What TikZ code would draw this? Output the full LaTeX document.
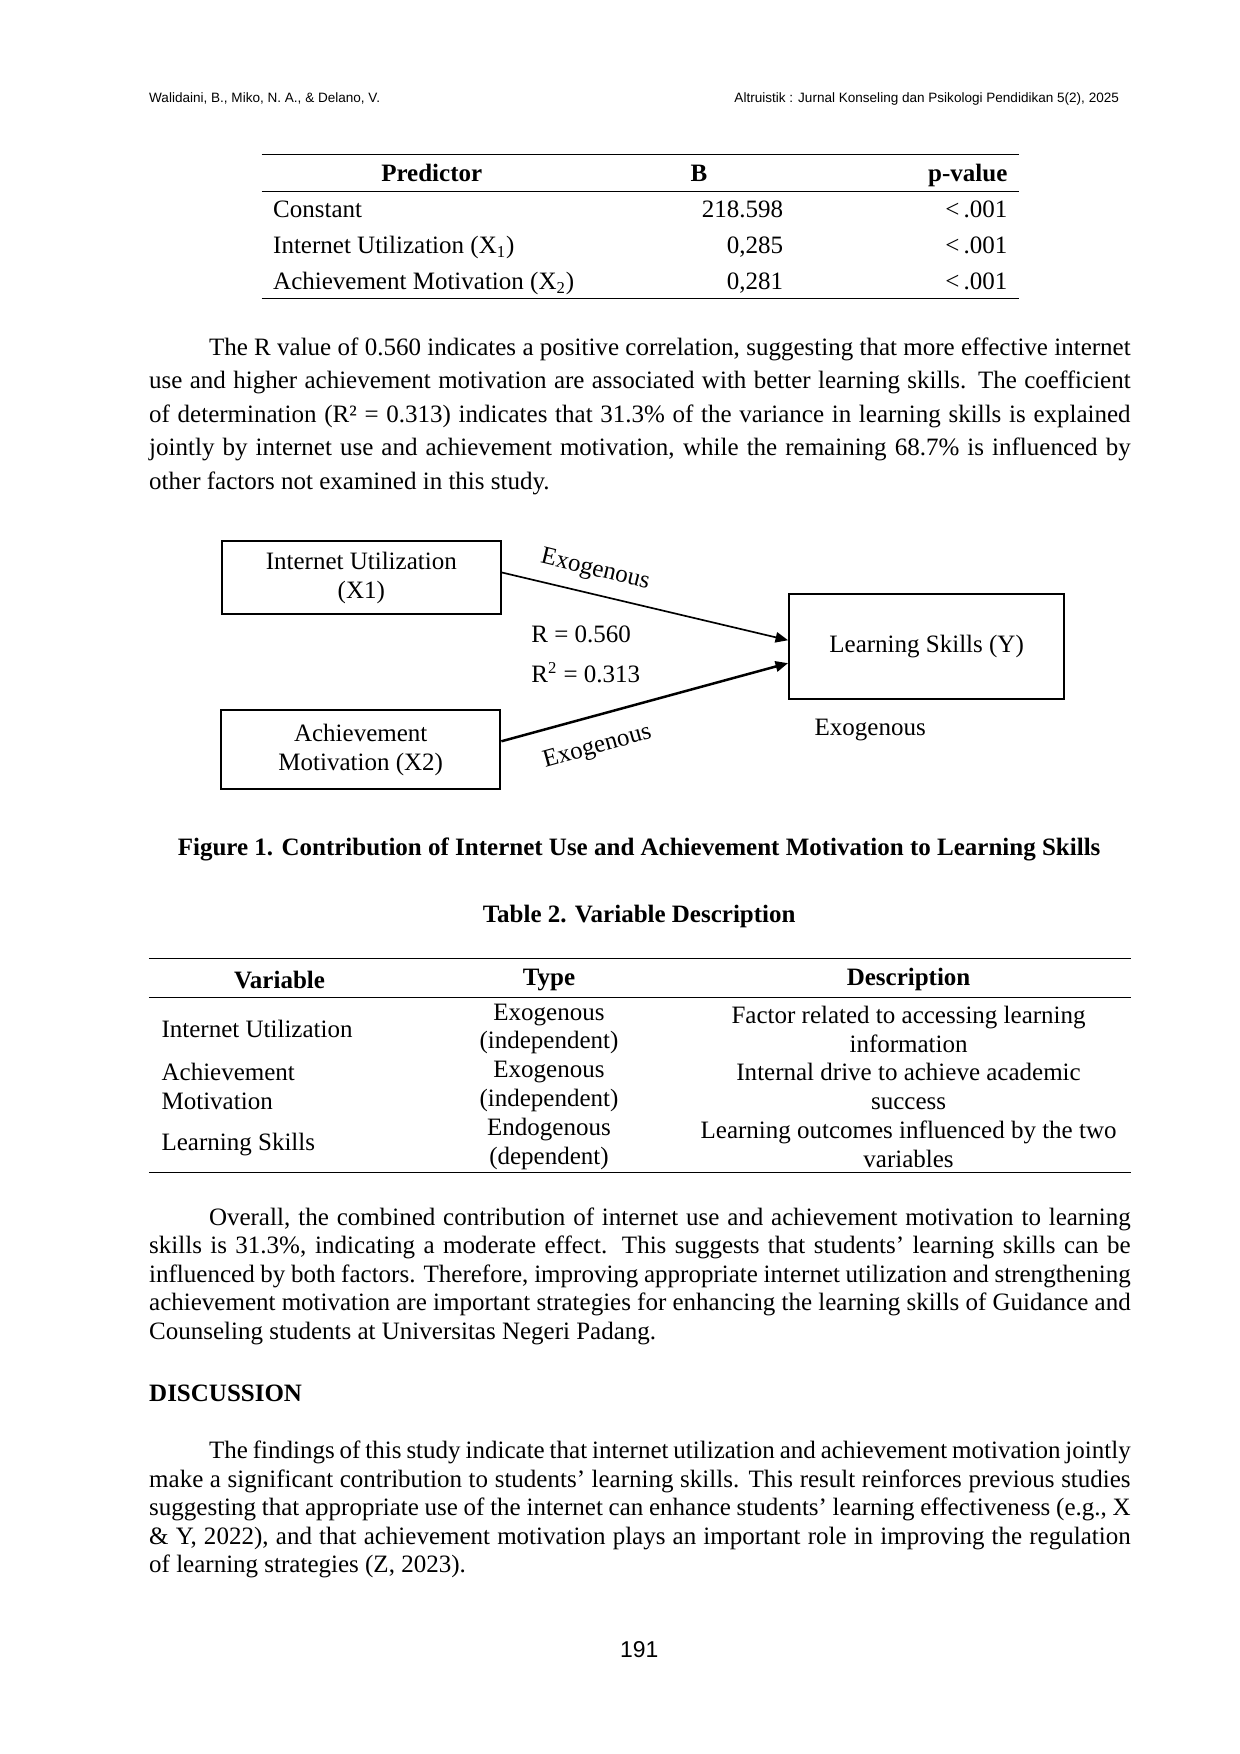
\documentclass[tikz,border=0pt]{standalone}
\usepackage{fontspec}
\setmainfont{Liberation Serif}
\newfontfamily\hdfont{Liberation Sans}
\usetikzlibrary{positioning,arrows.meta}

\tikzset{
  body/.style={anchor=north west,inner sep=0pt,text width=471pt,align=justify,
    font=\fontsize{12}{16.1}\selectfont},
  tight/.style={body,font=\fontsize{12}{13.7}\selectfont},
  cell/.style={inner sep=0pt,font=\fontsize{12}{13.7}\selectfont,align=center},
  box/.style={draw,line width=1pt,align=center,inner sep=0pt,
    font=\fontsize{12}{14}\selectfont},
  rule/.style={line width=0.6pt},
  path/.style={-{Triangle[length=6pt,width=5pt]}},
  lbl/.style={inner sep=0pt,font=\fontsize{12}{14}\selectfont}
}

\begin{document}
\begin{tikzpicture}[x=0.541pt,y=-0.541pt]
\useasboundingbox (0,0) rectangle (1100,1556);
% running head
\node[anchor=base west,inner sep=0pt,font=\hdfont\fontsize{6.5}{8}\selectfont] (hl) at (132,91) {Walidaini, B., Miko, N. A., \& Delano, V.};
\node[anchor=base east,inner sep=0pt,font=\hdfont\fontsize{6.5}{8}\selectfont] (hr) at (993,91) {Altruistik : Jurnal Konseling dan Psikologi Pendidikan 5(2), 2025};

% table 1
\draw[rule] (232,137) -- (904,137);
\draw[rule] (232,170) -- (904,170);
\draw[rule] (232,265) -- (904,265);
\node[cell,font=\bfseries\fontsize{12}{14}\selectfont,anchor=base] (tp) at (383,161) {Predictor};
\node[cell,font=\bfseries\fontsize{12}{14}\selectfont,anchor=base] (tb) at (620,161) {B};
\node[cell,font=\bfseries\fontsize{12}{14}\selectfont,anchor=base east] (tv) at (894,161) {p-value};
\foreach \y/\name/\b in {193/Constant/218.598,
    225/{Internet Utilization (X\textsubscript{1})}/{0,285},
    257/{Achievement Motivation (X\textsubscript{2})}/{0,281}} {
  \node[cell,anchor=base west] at (242,\y) {\name};
  \node[cell,anchor=base east] at (695,\y) {\b};
  \node[cell,anchor=base east] at (894,\y) {<\,.001};
}

% paragraph 1
\node[body] (p1) at (132,299) {\hspace*{28.7pt}The R value of 0.560 indicates a positive correlation, suggesting that more effective internet use and higher achievement motivation are associated with better learning skills. The coefficient of determination (R² = 0.313) indicates that 31.3\% of the variance in learning skills is explained jointly by internet use and achievement motivation, while the remaining 68.7\% is influenced by other factors not examined in this study.};

% figure 1
\node[box,minimum width=134pt,minimum height=35pt] (x1) at (320.5,512.5) {Internet Utilization\\(X1)};
\node[box,minimum width=134pt,minimum height=38pt] (x2) at (320,665) {Achievement\\Motivation (X2)};
\node[box,minimum width=132pt,minimum height=50pt] (y) at (822,573.5) {Learning Skills (Y)};
\draw[path,line width=0.8pt] ([yshift=2.5pt]x1.east) -- ([yshift=3pt]y.west);
\draw[path,line width=1.2pt] ([yshift=4pt]x2.east) -- ([yshift=-8pt]y.west);
\node[lbl,rotate=-13.6] (e1) at (528,506) {Exogenous};
\node[lbl,rotate=15.5] (e2) at (530,663) {Exogenous};
\node[lbl,anchor=west] (r1) at (471,563) {R = 0.560};
\node[lbl,anchor=west] (r2) at (471,597) {R\textsuperscript{2} = 0.313};
\node[lbl] (e3) at (772,648) {Exogenous};
\node[lbl,font=\bfseries\fontsize{12}{14}\selectfont] (cap) at (567,754) {Figure 1. Contribution of Internet Use and Achievement Motivation to Learning Skills};

% table 2
\node[lbl,font=\bfseries\fontsize{12}{14}\selectfont] (t2) at (567,813) {Table 2. Variable Description};
\draw[rule] (132,850) -- (1003,850);
\draw[rule] (132,885) -- (1003,885);
\draw[rule] (132,1040) -- (1003,1040);
\node[cell,font=\bfseries\fontsize{12}{14}\selectfont] (hv) at (248,869) {Variable};
\node[cell,font=\bfseries\fontsize{12}{14}\selectfont] (ht) at (487,869) {Type};
\node[cell,font=\bfseries\fontsize{12}{14}\selectfont] (hd) at (806,869) {Description};
\node[cell,anchor=west,align=left] (v1) at (143,913) {Internet Utilization};
\node[cell,anchor=west,align=left] (v2) at (143,964) {Achievement\\Motivation};
\node[cell,anchor=west,align=left] (v3) at (143,1015) {Learning Skills};
\node[cell] (y1) at (487,913) {Exogenous\\(independent)};
\node[cell] (y2) at (487,964) {Exogenous\\(independent)};
\node[cell] (y3) at (487,1015) {Endogenous\\(dependent)};
\node[cell] (d1) at (806,913) {Factor related to accessing learning\\information};
\node[cell] (d2) at (806,964) {Internal drive to achieve academic\\success};
\node[cell] (d3) at (806,1015) {Learning outcomes influenced by the two\\variables};

% paragraph 2
\node[tight] (p2) at (132,1071) {\hspace*{28.7pt}Overall, the combined contribution of internet use and achievement motivation to learning skills is 31.3\%, indicating a moderate effect. This suggests that students’ learning skills can be influenced by both factors. Therefore, improving appropriate internet utilization and strengthening achievement motivation are important strategies for enhancing the learning skills of Guidance and Counseling students at Universitas Negeri Padang.};

\node[lbl,anchor=west,font=\bfseries\fontsize{12}{14}\selectfont] (disc) at (132,1236) {DISCUSSION};

% paragraph 3
\node[tight] (p3) at (132,1278) {\hspace*{28.7pt}The findings of this study indicate that internet utilization and achievement motivation jointly make a significant contribution to students’ learning skills. This result reinforces previous studies suggesting that appropriate use of the internet can enhance students’ learning effectiveness (e.g., X \& Y, 2022), and that achievement motivation plays an important role in improving the regulation of learning strategies (Z, 2023).};

\node[lbl,font=\hdfont\fontsize{11}{13}\selectfont] (pg) at (567,1463) {191};
\end{tikzpicture}
\end{document}
